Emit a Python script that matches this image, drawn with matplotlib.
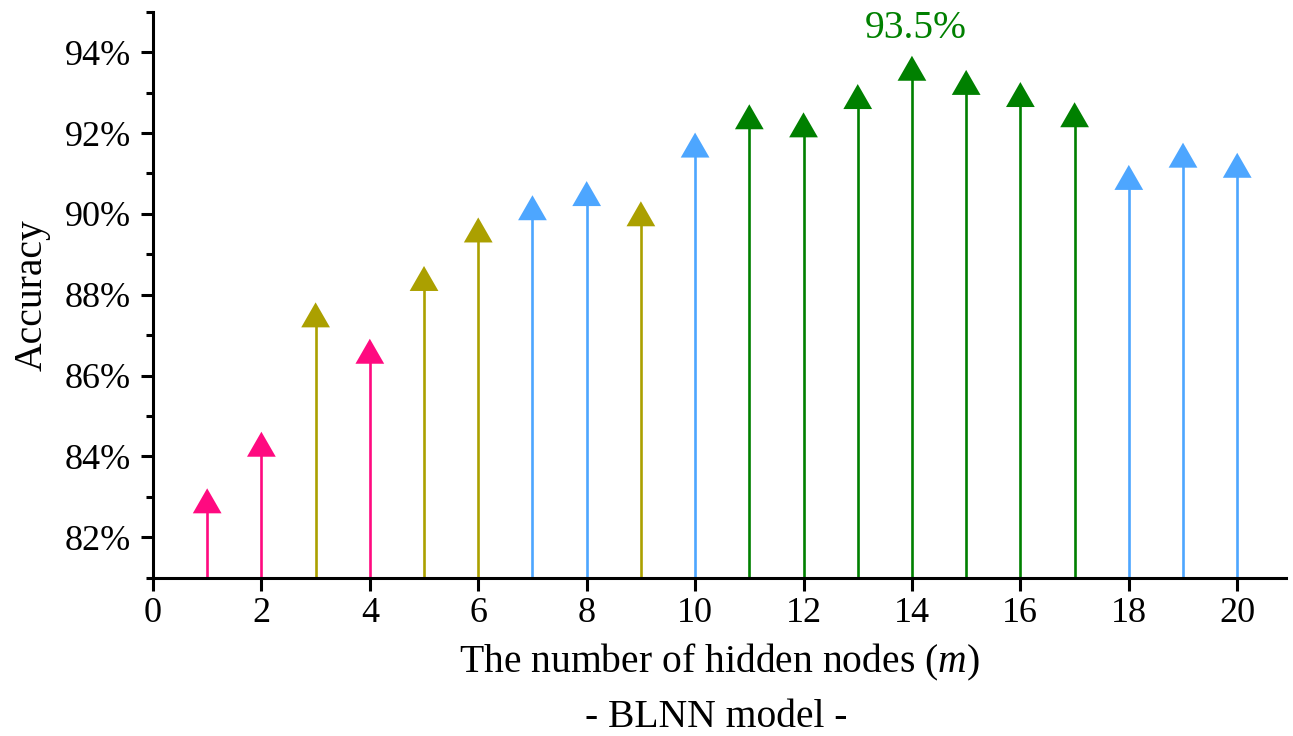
import matplotlib
matplotlib.use("Agg")
import matplotlib.pyplot as plt
from matplotlib.ticker import MultipleLocator, FuncFormatter

# hidden nodes m and accuracy (%) of the BLNN model
nodes = list(range(1, 21))
accuracy = [82.8, 84.2, 87.4, 86.5, 88.3, 89.5, 90.05, 90.4, 89.9, 91.6,
            92.3, 92.1, 92.8, 93.5, 93.15, 92.85, 92.35, 90.8, 91.35, 91.1]
groups = ["p", "p", "o", "p", "o", "o", "b", "b", "o", "b",
          "g", "g", "g", "g", "g", "g", "g", "b", "b", "b"]
group_colors = {"p": "#FF0A80", "o": "#ABA000", "b": "#4DA6FF", "g": "#008000"}
best_label = "93.5%"

plt.rcParams["font.family"] = ["Liberation Serif", "DejaVu Serif"]
plt.rcParams["mathtext.fontset"] = "custom"
plt.rcParams["mathtext.it"] = "Liberation Serif:italic"
plt.rcParams["mathtext.rm"] = "Liberation Serif"

fig = plt.figure(figsize=(12.93, 7.36), dpi=100)
ax = fig.add_axes([0.1183, 0.2150, 0.8763, 0.7690])

y_bottom, y_top = 81, 95
colors = [group_colors[g] for g in groups]

# triangle anchored at its centroid (like Origin)
tri = [(0, 2 / 3), (-0.575, -1 / 3), (0.575, -1 / 3), (0, 2 / 3)]

ax.vlines(nodes, y_bottom, accuracy, colors=colors, linewidth=1.9, zorder=2)
ax.scatter(nodes, accuracy, marker=tri, s=24 ** 2, c=colors, linewidths=0, zorder=3)

best = accuracy.index(max(accuracy))
ax.annotate(best_label, (nodes[best], accuracy[best]), xytext=(3, 25),
            textcoords="offset points", ha="center", va="baseline",
            color="#008000", fontsize=28.5)

ax.set_xlim(0, 20.9)
ax.set_ylim(y_bottom, y_top)
ax.xaxis.set_major_locator(MultipleLocator(2))
ax.yaxis.set_minor_locator(MultipleLocator(1))
ax.set_yticks([82, 84, 86, 88, 90, 92, 94])
ax.yaxis.set_major_formatter(FuncFormatter(lambda v, p: f"{v:.0f}%"))

for s in ("top", "right"):
    ax.spines[s].set_visible(False)
for s in ("left", "bottom"):
    ax.spines[s].set_linewidth(2.2)

ax.tick_params(axis="both", which="major", direction="out", length=9,
               width=2.2, labelsize=26, pad=7)
ax.tick_params(axis="x", which="major", pad=5)
ax.tick_params(axis="y", which="minor", direction="out", length=5, width=2.2)

ax.set_xlabel("The number of hidden nodes ($m$)", fontsize=28.5, labelpad=8)
ax.set_ylabel("Accuracy", fontsize=28.5, labelpad=10)
fig.text(0.554, 0.012, "- BLNN model -", ha="center", va="baseline", fontsize=28.5)

fig.savefig("out.png", dpi=100)
